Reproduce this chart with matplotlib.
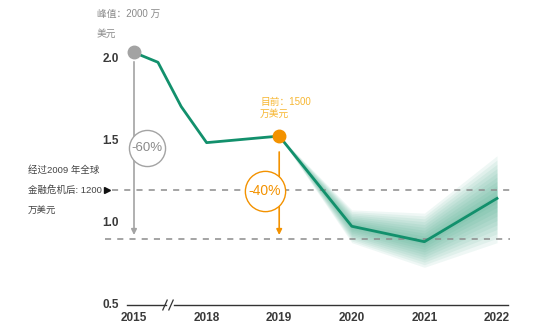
import matplotlib
matplotlib.use("Agg")
import matplotlib.pyplot as plt
import numpy as np

plt.rcParams['font.family'] = ['Liberation Sans', 'Noto Sans CJK SC', 'DejaVu Sans']

# ---- data ----
x_pos = [0, 0.33, 0.65, 1, 2, 3, 4, 5]
values = [2.04, 1.98, 1.71, 1.49, 1.53, 0.98, 0.886, 1.15]
band_x = [2, 3, 4, 5]
band_upper = [1.53, 1.08, 1.06, 1.41]
band_lower = [1.53, 0.88, 0.73, 0.88]
tick_pos = [0, 1, 2, 3, 4, 5]
tick_labels = ['2015', '2018', '2019', '2020', '2021', '2022']
y_ticks = [0.5, 1.0, 1.5, 2.0]
y_tick_labels = ['0.5', '1.0', '1.5', '2.0']
crisis_level = 1.2
target_level = 0.9

GREEN = '#12906c'
ORANGE = '#f39200'
GRAY = '#a3a3a3'
DARK = '#333333'

fig = plt.figure(figsize=(5.53, 3.35), dpi=100)
ax = fig.add_axes([0, 0, 1, 1])
px = 72.6
ax.set_xlim(-134 / px, (553 - 134) / px)
ax.set_ylim(0.5 - 30 / 164, 0.5 + 305 / 164)
ax.axis('off')

def xp(p):  # pixel -> data x
    return (p - 134) / px

def yp(p):  # pixel -> data y
    return 0.5 + (305 - p) / 164

# band (gradient via layered fills)
bx = np.array(band_x, float)
bc = np.interp(bx, x_pos, values)
bu = np.array(band_upper)
bl = np.array(band_lower)
n = 10
for k in range(n):
    f = 1.0 - k / n
    ax.fill_between(bx, bc + (bu - bc) * f, bc - (bc - bl) * f,
                    color='#2a9f7a', alpha=0.075, lw=0, zorder=1)

# dashed reference lines
ax.plot([xp(112), xp(510)], [crisis_level] * 2, ls=(0, (4, 4)), color='#8c8c8c', lw=1.1, zorder=2)
ax.plot([xp(105), xp(510)], [target_level] * 2, ls=(0, (4, 4)), color='#8c8c8c', lw=1.1, zorder=2)
ax.plot([xp(107)], [crisis_level], marker='>', color='#111111', ms=5, zorder=3)

# x axis line with break
ax.plot([xp(127), xp(166)], [0.5, 0.5], color=DARK, lw=1.0)
ax.plot([xp(174), xp(508)], [0.5, 0.5], color=DARK, lw=1.0)
for dx in [xp(165), xp(171)]:
    ax.plot([dx - 0.03, dx + 0.03], [0.47, 0.53], color=DARK, lw=0.9)

for p, t in zip(tick_pos, tick_labels):
    ax.text(p, 0.5 - 13 / 164, t, ha='center', va='center', fontsize=8.5,
            fontweight='bold', color='#3a3a3a')
for v, t in zip(y_ticks, y_tick_labels):
    ax.text(xp(119), v, t, ha='right', va='center', fontsize=8.5,
            fontweight='bold', color='#3a3a3a')

# gray arrow (peak)
ax.annotate('', xy=(0, target_level + 0.01), xytext=(0, 2.0),
            arrowprops=dict(arrowstyle='-|>', color=GRAY, lw=1.2, mutation_scale=8), zorder=2)
# orange arrow
ax.annotate('', xy=(2, target_level + 0.01), xytext=(2, 1.45),
            arrowprops=dict(arrowstyle='-|>', color=ORANGE, lw=1.2, mutation_scale=8), zorder=2)

# main line
ax.plot(x_pos, values, color=GREEN, lw=2.0, zorder=4)
ax.plot([x_pos[0]], [values[0]], 'o', color=GRAY, ms=9, zorder=5)
ax.plot([x_pos[4]], [values[4]], 'o', color=ORANGE, ms=9, zorder=5)

# circles with percentages
ax.plot([xp(147)], [yp(148)], 'o', ms=26, mfc='white', mec=GRAY, mew=1.0, zorder=3)
ax.text(xp(147), yp(148), '-60%', ha='center', va='center',
        fontsize=9.5, color='#8a8a8a', zorder=4)
ax.plot([xp(265)], [yp(191)], 'o', ms=29, mfc='white', mec=ORANGE, mew=1.0, zorder=3)
ax.text(xp(265), yp(191), '-40%', ha='center', va='center',
        fontsize=10, color=ORANGE, zorder=4)

# annotations
ax.text(xp(97), yp(14), '峰值：2000 万', ha='left', va='center',
        fontsize=7, color='#8a8a8a')
ax.text(xp(97), yp(34), '美元', ha='left', va='center',
        fontsize=7, color='#8a8a8a')
ax.text(xp(260), yp(102), '目前：1500', ha='left', va='center',
        fontsize=7, color='#f7b733')
ax.text(xp(260), yp(114), '万美元', ha='left', va='center',
        fontsize=7, color='#f7b733')
for i, t in enumerate(['经过2009 年全球', '金融危机后: 1200', '万美元']):
    ax.text(xp(28), yp(170 + 20 * i), t, ha='left', va='center',
            fontsize=6.8, color='#444444')

fig.savefig('out.png', dpi=100)
